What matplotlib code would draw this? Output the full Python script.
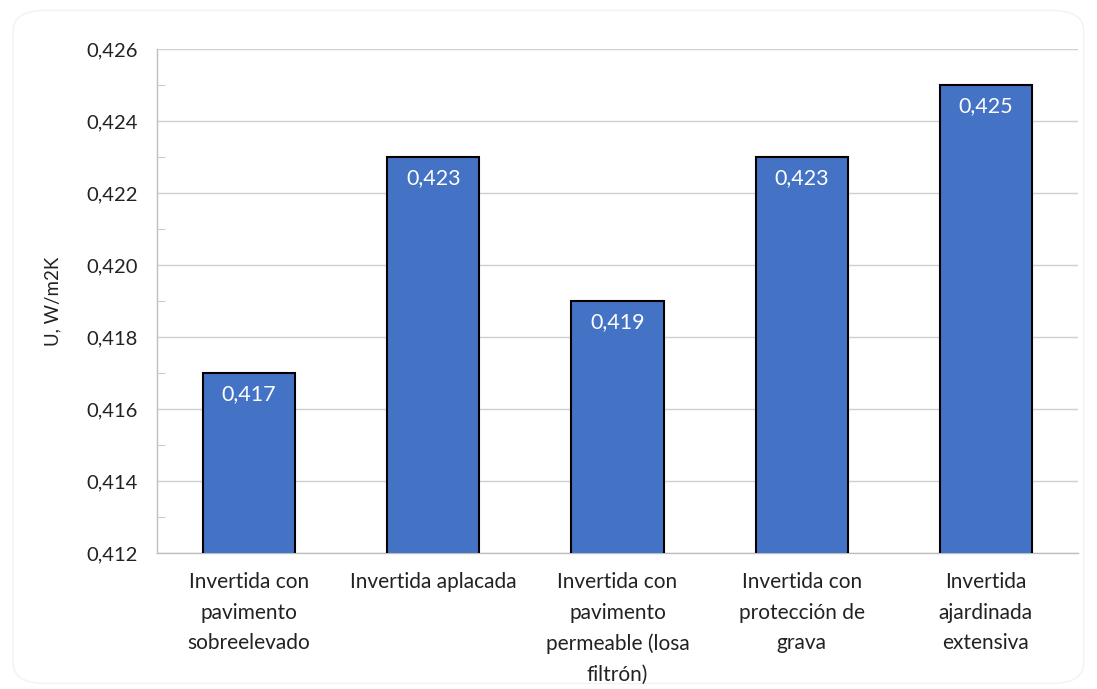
import matplotlib
matplotlib.use("Agg")
import matplotlib.pyplot as plt
from matplotlib.patches import FancyBboxPatch
from matplotlib.ticker import FuncFormatter, MultipleLocator

categories = [
    "Invertida con\npavimento\nsobreelevado",
    "Invertida aplacada",
    "Invertida con\npavimento\npermeable (losa\nfiltrón)",
    "Invertida con\nprotección de\ngrava",
    "Invertida\najardinada\nextensiva",
]
values = [0.417, 0.423, 0.419, 0.423, 0.425]

plt.rcParams["font.family"] = ["Lato", "DejaVu Sans"]

fig = plt.figure(figsize=(10.97, 6.89), dpi=100)
ax = fig.add_axes([157 / 1097, 1 - 553 / 689, (1078 - 157) / 1097, (553 - 49) / 689])

x = range(len(values))
bars = ax.bar(x, values, width=0.5, color="#4472C4", edgecolor="black", linewidth=1.5, zorder=3)

ax.set_xlim(-0.5, len(values) - 0.5)
ax.set_ylim(0.412, 0.426)
ax.yaxis.set_major_locator(MultipleLocator(0.002))
ax.yaxis.set_minor_locator(MultipleLocator(0.001))
comma = FuncFormatter(lambda v, p: f"{v:.3f}".replace(".", ","))
ax.yaxis.set_major_formatter(comma)
ax.grid(axis="y", which="major", color="#d0d0d0", linewidth=1, zorder=0)

for s in ["top", "right"]:
    ax.spines[s].set_visible(False)
for s in ["left", "bottom"]:
    ax.spines[s].set_color("#bfbfbf")
    ax.spines[s].set_linewidth(1)

ax.tick_params(axis="y", which="major", length=0, pad=14, labelsize=14.5, labelcolor="#222222")
ax.tick_params(axis="y", which="minor", direction="in", length=6, color="#bfbfbf")
ax.tick_params(axis="x", length=0, pad=14, labelsize=15, labelcolor="#222222")
ax.set_xticks(list(x))
ax.set_xticklabels(categories, linespacing=1.65, va="top")

ax.set_ylabel("U, W/m2K", fontsize=13.5, color="#222222", labelpad=18)

for b, v in zip(bars, values):
    ax.annotate(f"{v:.3f}".replace(".", ","), (b.get_x() + b.get_width() / 2, v),
                xytext=(0, -8), textcoords="offset points", ha="center", va="top",
                color="white", fontsize=15.5, zorder=4)

# faint rounded frame behind everything
border = FancyBboxPatch((0.012, 0.008), 0.976, 0.977, boxstyle="round,pad=0,rounding_size=0.03",
                        transform=fig.transFigure, fill=False, edgecolor="#f2f2f2",
                        linewidth=1, zorder=-1)
fig.patches.append(border)

fig.savefig("out.png", dpi=100)
